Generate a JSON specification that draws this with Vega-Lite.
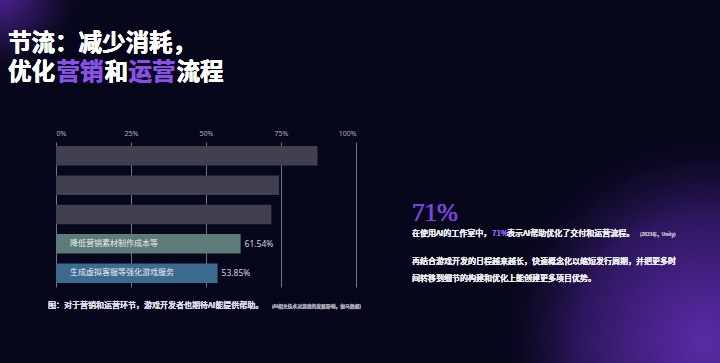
{
  "$schema": "https://vega.github.io/schema/vega-lite/v6.json",
  "autosize": {"type": "none"},
  "width": 300,
  "height": 145,
  "padding": {"left": 56, "top": 142, "right": 364, "bottom": 76},
  "background": "#07071b",
  "config": {
    "font": "Noto Sans CJK SC",
    "view": {"stroke": null}
  },
  "data": {
    "values": [
      {"cat": "r1", "label": "", "value": 87.18},
      {"cat": "r2", "label": "", "value": 74.36},
      {"cat": "r3", "label": "", "value": 71.79},
      {"cat": "r4", "label": "降低营销素材制作成本等", "value": 61.54},
      {"cat": "r5", "label": "生成虚拟客服等强化游戏服务", "value": 53.85}
    ]
  },
  "layer": [
    {
      "mark": {"type": "point", "shape": "circle", "filled": true, "opacity": 1, "size": 180000,
               "color": {"gradient": "radial", "x1": 0.5, "y1": 0.5, "r1": 0, "x2": 0.5, "y2": 0.5, "r2": 0.5,
                         "stops": [{"offset": 0, "color": "rgba(92,44,170,0.5)"}, {"offset": 0.6, "color": "rgba(60,28,120,0.22)"}, {"offset": 1, "color": "rgba(7,7,27,0)"}]}},
      "encoding": {"x": {"value": 650}, "y": {"value": 200}}
    },
    {
      "mark": {"type": "point", "shape": "circle", "filled": true, "opacity": 1, "size": 30000,
               "color": {"gradient": "radial", "x1": 0.5, "y1": 0.5, "r1": 0, "x2": 0.5, "y2": 0.5, "r2": 0.5,
                         "stops": [{"offset": 0, "color": "rgba(80,36,150,0.55)"}, {"offset": 1, "color": "rgba(7,7,27,0)"}]}},
      "encoding": {"x": {"value": -56}, "y": {"value": -150}}
    },
    {
      "mark": {"type": "bar"},
      "encoding": {
        "y": {"field": "cat", "type": "nominal", "sort": null, "axis": null,
              "scale": {"paddingInner": 0.335, "paddingOuter": 0.14}},
        "x": {"field": "value", "type": "quantitative",
              "scale": {"domain": [0, 100], "nice": false},
              "axis": {"orient": "top", "values": [0, 25, 50, 75, 100], "labelExpr": "datum.value + '%'",
                       "title": null, "domain": false, "ticks": false, "labelPadding": 6,
                       "labelFontSize": 7, "labelColor": "#b0b0bc", "labelFont": "Noto Sans",
                       "grid": true, "gridColor": "#9a9aa8", "gridOpacity": 0.75, "gridWidth": 1}},
        "color": {"field": "cat", "type": "nominal", "legend": null,
                  "scale": {"domain": ["r1", "r2", "r3", "r4", "r5"],
                            "range": ["#41404e", "#41404e", "#41404e", "#5d7c79", "#3b6b8f"]}}
      }
    },
    {
      "transform": [{"filter": "datum.label != ''"}],
      "mark": {"type": "text", "align": "left", "baseline": "middle", "dx": 14, "fontSize": 8, "fill": "#eeeeee"},
      "encoding": {
        "y": {"field": "cat", "type": "nominal", "sort": null},
        "x": {"datum": 0},
        "text": {"field": "label"}
      }
    },
    {
      "transform": [{"filter": "datum.label != ''"}, {"calculate": "format(datum.value, '.2f') + '%'", "as": "pct"}],
      "mark": {"type": "text", "align": "left", "baseline": "middle", "dx": 4, "fontSize": 8.5, "font": "Noto Sans", "fill": "#d6d6de"},
      "encoding": {
        "y": {"field": "cat", "type": "nominal", "sort": null},
        "x": {"field": "value", "type": "quantitative"},
        "text": {"field": "pct"}
      }
    },
    {
      "mark": {"type": "text", "text": "节流：减少消耗，", "align": "left", "baseline": "alphabetic", "fontSize": 23.5, "fontWeight": "bold", "fill": "#ffffff"},
      "encoding": {"x": {"value": -48}, "y": {"value": -91}}
    },
    {
      "mark": {"type": "text", "text": "优化", "align": "left", "baseline": "alphabetic", "fontSize": 23.5, "fontWeight": "bold", "fill": "#ffffff"},
      "encoding": {"x": {"value": -48}, "y": {"value": -62}}
    },
    {
      "mark": {"type": "text", "text": "营销", "align": "left", "baseline": "alphabetic", "fontSize": 23.5, "fontWeight": "bold", "fill": "#8a50e6"},
      "encoding": {"x": {"value": 0.5}, "y": {"value": -62}}
    },
    {
      "mark": {"type": "text", "text": "和", "align": "left", "baseline": "alphabetic", "fontSize": 23.5, "fontWeight": "bold", "fill": "#ffffff"},
      "encoding": {"x": {"value": 48.5}, "y": {"value": -62}}
    },
    {
      "mark": {"type": "text", "text": "运营", "align": "left", "baseline": "alphabetic", "fontSize": 23.5, "fontWeight": "bold", "fill": "#8a50e6"},
      "encoding": {"x": {"value": 72.5}, "y": {"value": -62}}
    },
    {
      "mark": {"type": "text", "text": "流程", "align": "left", "baseline": "alphabetic", "fontSize": 23.5, "fontWeight": "bold", "fill": "#ffffff"},
      "encoding": {"x": {"value": 120.5}, "y": {"value": -62}}
    },
    {
      "mark": {"type": "text", "text": "图：对于营销和运营环节，游戏开发者也期待AI能提供帮助。", "align": "left", "baseline": "middle", "fontSize": 8, "fill": "#dcdce4"},
      "encoding": {"x": {"value": -8}, "y": {"value": 164}}
    },
    {
      "mark": {"type": "text", "text": "(AI相关技术对游戏的发展影响，伽马数据)", "align": "left", "baseline": "middle", "fontSize": 4.8, "fill": "#a8a8b8"},
      "encoding": {"x": {"value": 216}, "y": {"value": 165}}
    },
    {
      "mark": {"type": "text", "text": "71%", "align": "left", "baseline": "middle", "fontSize": 25, "font": "Liberation Serif", "fill": "#7b45d6"},
      "encoding": {"x": {"value": 356}, "y": {"value": 71}}
    },
    {
      "mark": {"type": "text", "text": "在使用AI的工作室中，", "align": "left", "baseline": "middle", "fontSize": 8, "fill": "#ececf2"},
      "encoding": {"x": {"value": 356}, "y": {"value": 92}}
    },
    {
      "mark": {"type": "text", "text": "71%", "align": "left", "baseline": "middle", "fontSize": 8, "fill": "#8e58e6"},
      "encoding": {"x": {"value": 436}, "y": {"value": 92}}
    },
    {
      "mark": {"type": "text", "text": "表示AI帮助优化了交付和运营流程。", "align": "left", "baseline": "middle", "fontSize": 8, "fill": "#ececf2"},
      "encoding": {"x": {"value": 451}, "y": {"value": 92}}
    },
    {
      "mark": {"type": "text", "text": "(2023年，Unity)", "align": "left", "baseline": "middle", "fontSize": 4.8, "fill": "#b0b0c0"},
      "encoding": {"x": {"value": 584}, "y": {"value": 93}}
    },
    {
      "mark": {"type": "text", "text": "再结合游戏开发的日程越来越长，快速概念化以缩短发行周期，并把更多时", "align": "left", "baseline": "middle", "fontSize": 8, "fill": "#ececf2"},
      "encoding": {"x": {"value": 356}, "y": {"value": 120}}
    },
    {
      "mark": {"type": "text", "text": "间转移到细节的构建和优化上能创建更多项目优势。", "align": "left", "baseline": "middle", "fontSize": 8, "fill": "#ececf2"},
      "encoding": {"x": {"value": 356}, "y": {"value": 137}}
    }
  ]
}
